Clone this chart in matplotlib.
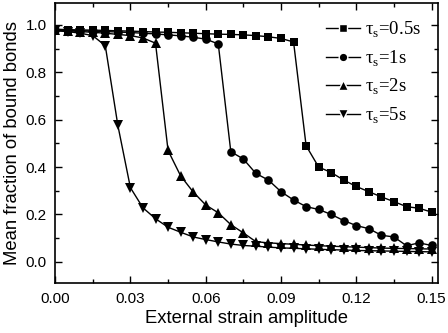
import matplotlib
matplotlib.use("Agg")
import matplotlib.pyplot as plt
from matplotlib.ticker import MultipleLocator

# ---- data ----
strain = [0.000, 0.005, 0.010, 0.015, 0.020, 0.025, 0.030, 0.035, 0.040, 0.045,
          0.050, 0.055, 0.060, 0.065, 0.070, 0.075, 0.080, 0.085, 0.090, 0.095,
          0.100, 0.105, 0.110, 0.115, 0.120, 0.125, 0.130, 0.135, 0.140, 0.145,
          0.150]

tau_05 = [0.982, 0.980, 0.979, 0.978, 0.977, 0.975, 0.974, 0.972, 0.970, 0.969,
          0.967, 0.965, 0.963, 0.961, 0.960, 0.958, 0.955, 0.950, 0.943, 0.928,
          0.490, 0.400, 0.377, 0.345, 0.318, 0.296, 0.274, 0.254, 0.233, 0.226,
          0.210]

tau_1 = [0.980, 0.978, 0.976, 0.974, 0.972, 0.970, 0.968, 0.965, 0.962, 0.958,
         0.954, 0.948, 0.940, 0.920, 0.465, 0.434, 0.373, 0.345, 0.296, 0.261,
         0.233, 0.221, 0.200, 0.174, 0.153, 0.140, 0.112, 0.105, 0.068, 0.080,
         0.069]

tau_2 = [0.978, 0.975, 0.972, 0.969, 0.965, 0.960, 0.955, 0.945, 0.923, 0.470,
         0.363, 0.295, 0.240, 0.207, 0.157, 0.122, 0.085, 0.080, 0.077, 0.074,
         0.071, 0.068, 0.066, 0.064, 0.062, 0.060, 0.058, 0.057, 0.056, 0.055,
         0.054]

tau_5 = [0.975, 0.972, 0.965, 0.955, 0.912, 0.576, 0.313, 0.228, 0.182, 0.146,
         0.125, 0.105, 0.094, 0.084, 0.075, 0.069, 0.066, 0.062, 0.059, 0.057,
         0.055, 0.053, 0.051, 0.050, 0.048, 0.047, 0.046, 0.045, 0.044, 0.043,
         0.042]

labels = ["0.5s", "1s", "2s", "5s"]

plt.rcParams['font.family'] = ['Liberation Sans', 'DejaVu Sans']

fig = plt.figure(figsize=(4.48, 3.33), dpi=100)
ax = fig.add_axes([0.123, 0.149, 0.855, 0.843])

series = [tau_05, tau_1, tau_2, tau_5]
markers = ['s', 'o', '^', 'v']
msizes = [5.6, 6.2, 7.6, 7.6]
for vals, mk, ms, lab in zip(series, markers, msizes, labels):
    ax.plot(strain, vals, color='black', lw=1.0, marker=mk, markersize=ms,
            markeredgewidth=0, label='τ$_\\mathregular{s}$=' + lab)

ax.set_xlim(0, 0.1526)
ax.set_ylim(-0.091, 1.094)
ax.xaxis.set_major_locator(MultipleLocator(0.03))
ax.xaxis.set_minor_locator(MultipleLocator(0.015))
ax.yaxis.set_major_locator(MultipleLocator(0.2))
ax.yaxis.set_minor_locator(MultipleLocator(0.1))
ax.xaxis.set_major_formatter(plt.FormatStrFormatter('%.2f'))
ax.yaxis.set_major_formatter(plt.FormatStrFormatter('%.1f'))

ax.tick_params(which='both', direction='in', top=True, right=True, labelsize=11,
               width=1, colors='black')
ax.tick_params(which='major', length=5, pad=6)
ax.tick_params(which='minor', length=3)
for sp in ax.spines.values():
    sp.set_linewidth(1.2)

ax.set_xlabel("External strain amplitude", fontsize=13.3, labelpad=3)
ax.set_ylabel("Mean fraction of bound bonds", fontsize=13.3, labelpad=3)

leg = ax.legend(loc='upper right', frameon=False, handlelength=1.8,
                handletextpad=0.3, labelspacing=0.45, borderaxespad=0.5,
                markerscale=1.0,
                prop={'family': ['Liberation Serif', 'DejaVu Serif'], 'size': 13.5})
# small gap between line and marker in the legend keys
for h in leg.legend_handles:
    h.set_markeredgecolor('white')
    h.set_markeredgewidth(1.0)

fig.savefig("out.png", dpi=100)
